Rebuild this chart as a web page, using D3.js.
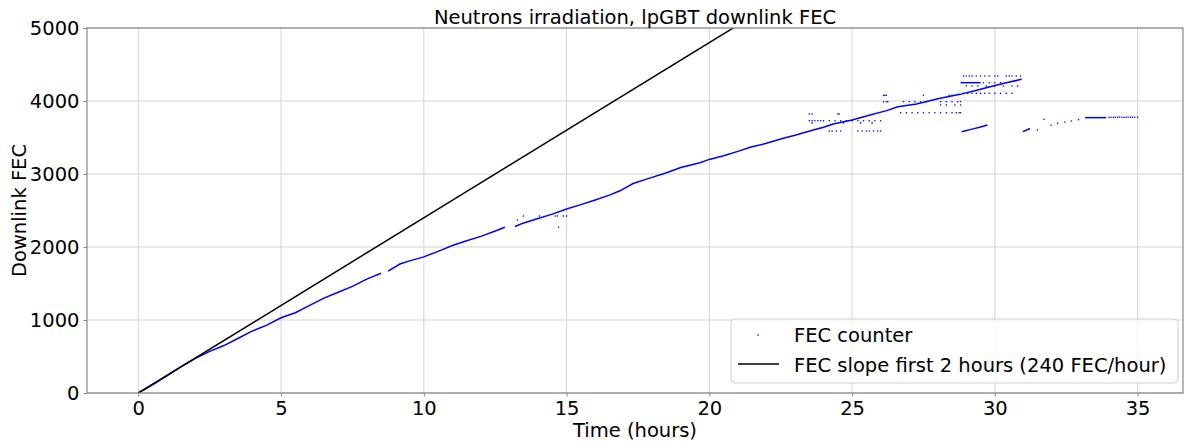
<!DOCTYPE html>
<html>
<head>
<meta charset="utf-8">
<script src="https://cdn.jsdelivr.net/npm/d3@7"></script>
<style>
html,body{margin:0;padding:0;background:#fff;}
svg text{font-family:"DejaVu Sans",sans-serif;fill:#000;}
</style>
</head>
<body>
<svg id="chart" width="1184" height="443"></svg>
<script>
// ---- data (time in hours, downlink FEC count) ----
const xTicks = [0, 5, 10, 15, 20, 25, 30, 35];
const yTicks = [0, 1000, 2000, 3000, 4000, 5000];
const titleText = "Neutrons irradiation, lpGBT downlink FEC";
const xLabel = "Time (hours)";
const yLabel = "Downlink FEC";
const legendLabels = ["FEC counter", "FEC slope first 2 hours (240 FEC/hour)"];
const slopePerHour = 240;
const slopeSpan = [0, 35];

const segA = [[0,0],[0.5,110],[1,235],[1.5,360],[2,475],[2.5,570],[3,650],[3.5,750],[4,850],[4.5,930],[5,1030],[5.5,1100],[6,1200],[6.5,1300],[7,1380],[7.5,1460],[8,1560],[8.5,1640]];
const segB = [[8.75,1670],[9.16,1767],[9.5,1810],[10,1865],[10.5,1940],[11,2020],[11.5,2085],[12,2145],[12.5,2220],[12.84,2270]];
const segC = [[13.19,2280],[13.5,2330],[14,2390],[14.5,2450],[15,2520],[15.5,2580],[16,2645],[16.5,2710],[16.87,2770],[17.33,2870],[17.8,2930],[18.5,3018],[19,3090],[19.67,3155],[20,3200],[20.5,3250],[21,3310],[21.43,3366],[22,3420],[22.59,3489],[23,3530],[23.64,3603],[24,3640],[24.34,3685],[25,3740],[25.63,3808],[26.21,3868],[26.6,3920],[27.26,3959],[28,4030],[28.78,4091],[29.3,4140],[29.83,4196],[30.4,4250],[30.94,4297]];
const segD = [[28.84,3580],[29.2,3615],[29.5,3645],[29.74,3671]];
const segE = [[30.98,3580],[31.1,3600],[31.23,3623]];
const segF = [[33.16,3772],[33.9,3772]];
const segG = [[28.8,4251],[29.5,4251]];

const strayDots = [
  [13.28,2370],[13.49,2425],[14.05,2425],[14.6,2425],[14.68,2425],[14.72,2270],[14.89,2425],[15.0,2425],
  [23.5,3822],[23.6,3822],[24.5,3822],[24.55,3822],
  [23.5,3730],[23.6,3730],[23.7,3730],[23.8,3730],[23.9,3730],[24.0,3730],[24.2,3730],[24.4,3730],[24.6,3730],[24.8,3730],[25.0,3730],[25.2,3730],[25.4,3730],[25.6,3730],[25.8,3730],[26.0,3730],
  [23.6,3700],[24.7,3700],[25.3,3700],[25.7,3700],
  [24.2,3589],[24.3,3589],[24.45,3589],[24.6,3589],[25.2,3589],[25.35,3589],[25.5,3589],[25.6,3589],[25.75,3589],[25.9,3589],[26.0,3589],
  [26.1,4078],[26.15,4078],[26.2,4078],[27.5,4078],[28.4,4078],[28.5,4078],
  [26.1,3990],[26.2,3990],[26.25,3990],[26.8,3990],[27.0,3990],[27.2,3990],[27.4,3990],[27.6,3990],[28.1,3990],[28.3,3990],[28.5,3990],[28.7,3990],[28.8,3990],
  [28.1,3945],[28.3,3945],[28.6,3945],[28.8,3945],
  [26.7,3840],[26.9,3840],[27.1,3840],[27.3,3840],[27.5,3840],[27.7,3840],[27.9,3840],[28.1,3840],[28.3,3840],[28.5,3840],[28.65,3840],[28.75,3840],[28.8,3840],
  [28.9,4342],[29.0,4342],[29.1,4342],[29.2,4342],[29.35,4342],[29.5,4342],[29.65,4342],[29.8,4342],[30.0,4342],[30.1,4342],[30.4,4342],[30.5,4342],[30.6,4342],[30.75,4342],[30.9,4342],
  [29.6,4251],[29.8,4251],[30.0,4251],[30.2,4251],
  [29.0,4205],[29.2,4205],[29.4,4205],[29.7,4205],[30.0,4205],[30.3,4205],[30.6,4205],[30.8,4205],
  [28.9,4105],[29.05,4105],[29.2,4105],[29.35,4105],[29.5,4105],[29.65,4105],[29.8,4105],[30.0,4105],[30.2,4105],[30.4,4105],[30.6,4105],
  [31.49,3603],[31.72,3749],[31.97,3667],[32.2,3694],[32.45,3712],[32.68,3726],[32.93,3744],
  [34.0,3776],[34.07,3778],[34.15,3776],[34.22,3778],[34.3,3776],[34.37,3780],[34.45,3778],[34.52,3776],[34.6,3778],[34.67,3780],[34.75,3778],[34.82,3776],[34.9,3778],[35.0,3776]
];

// ---- layout ----
const svg = d3.select("#chart");
const L = 87, R = 1183, T = 28, B = 393;
const x = d3.scaleLinear().domain([-1.797, 36.59]).range([L, R]);
const y = d3.scaleLinear().domain([0, 5000]).range([B, T]);
const spine = "#888", grid = "#d3d3d3", fs = "19.5px";

// grid
svg.append("g").selectAll("line").data(xTicks).join("line")
  .attr("x1", d => x(d)).attr("x2", d => x(d)).attr("y1", T).attr("y2", B)
  .attr("stroke", grid).attr("stroke-width", 1);
svg.append("g").selectAll("line").data(yTicks).join("line")
  .attr("y1", d => y(d)).attr("y2", d => y(d)).attr("x1", L).attr("x2", R)
  .attr("stroke", grid).attr("stroke-width", 1);

// clip
svg.append("clipPath").attr("id", "clip").append("rect")
  .attr("x", L).attr("y", T).attr("width", R - L).attr("height", B - T);
const plot = svg.append("g").attr("clip-path", "url(#clip)");

// data
const line = d3.line().x(d => x(d[0])).y(d => y(d[1]));
[segA, segB, segC, segD, segE, segF, segG].forEach(seg => {
  plot.append("path").datum(seg).attr("d", line)
    .attr("fill", "none").attr("stroke", "#0000ff").attr("stroke-width", 1.5);
});
plot.append("g").selectAll("circle").data(strayDots).join("circle")
  .attr("cx", d => x(d[0])).attr("cy", d => y(d[1])).attr("r", 0.8).attr("fill", "#0000ff");

// slope line
plot.append("path").datum(slopeSpan.map(t => [t, t * slopePerHour])).attr("d", line)
  .attr("fill", "none").attr("stroke", "#000").attr("stroke-width", 1.5);

// axes
const xAxis = d3.axisBottom(x).tickValues(xTicks).tickSize(3.5).tickPadding(5).tickFormat(d3.format("d"));
const gx = svg.append("g").attr("transform", `translate(0,${B})`).call(xAxis);
const yAxis = d3.axisLeft(y).tickValues(yTicks).tickSize(3.5).tickPadding(4).tickFormat(d3.format("d"));
const gy = svg.append("g").attr("transform", `translate(${L},0)`).call(yAxis);
[gx, gy].forEach(g => {
  g.select(".domain").remove();
  g.selectAll(".tick line").attr("stroke", spine);
  g.selectAll("text").style("font-size", fs).attr("font-family", "DejaVu Sans");
});
gy.selectAll("text").attr("dy", "0.35em");

// spines
svg.append("rect").attr("x", L).attr("y", T).attr("width", R - L).attr("height", B - T)
  .attr("fill", "none").attr("stroke", spine).attr("stroke-width", 1.2);

// title + labels
svg.append("text").attr("x", (L + R) / 2).attr("y", 24).attr("text-anchor", "middle")
  .style("font-size", fs).text(titleText);
svg.append("text").attr("x", (L + R) / 2).attr("y", 437).attr("text-anchor", "middle")
  .style("font-size", fs).text(xLabel);
svg.append("text").attr("transform", `translate(26,${(T + B) / 2}) rotate(-90)`)
  .attr("text-anchor", "middle").style("font-size", fs).text(yLabel);

// legend
const lg = svg.append("g");
lg.append("rect").attr("x", 731).attr("y", 319).attr("width", 447).attr("height", 64).attr("rx", 4)
  .attr("fill", "#fff").attr("fill-opacity", 0.8).attr("stroke", "#d0d0d0");
lg.append("circle").attr("cx", 758).attr("cy", 335).attr("r", 0.8).attr("fill", "#0000ff");
lg.append("line").attr("x1", 738).attr("x2", 779).attr("y1", 364).attr("y2", 364)
  .attr("stroke", "#000").attr("stroke-width", 1.5);
lg.append("text").attr("x", 794).attr("y", 342).style("font-size", fs).text(legendLabels[0]);
lg.append("text").attr("x", 794).attr("y", 372).style("font-size", fs).text(legendLabels[1]);
</script>
</body>
</html>
